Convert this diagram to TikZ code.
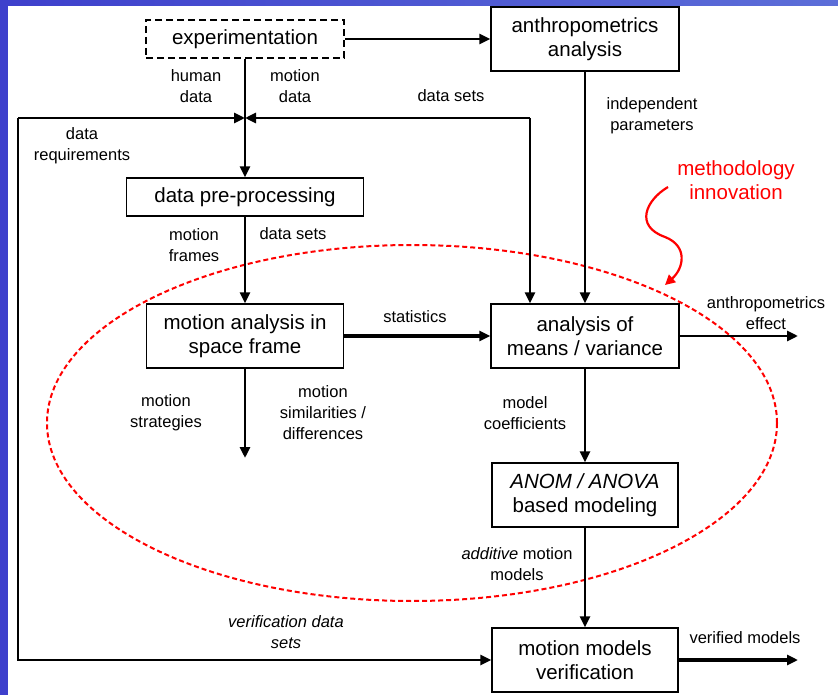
\documentclass[tikz,border=0pt]{standalone}
\usepackage{fontspec}
\setmainfont{Liberation Sans}
\usetikzlibrary{calc}
\usetikzlibrary{arrows.meta}

\definecolor{slideleft}{RGB}{62,64,204}
\definecolor{slideright}{RGB}{92,110,216}

\tikzset{
  box/.style={draw,line width=1.3pt,align=center,inner sep=0pt,font=\fontsize{20.5}{24}\selectfont},
  lbl/.style={align=center,inner sep=0pt,font=\fontsize{16.5}{21}\selectfont},
  flow/.style={line width=2.9pt,-{Triangle[length=11pt,width=10pt]}},
}

\begin{document}
\begin{tikzpicture}[x=1pt,y=-1pt]
  % Boundary
  \path[use as bounding box] (0,0) rectangle (838,695);
  % Slide background
  \fill[left color=slideleft,right color=slideright] (0,0) rectangle (838,695);
  \fill[white] (7.5,6) rectangle (838,695);
  % Methodology ellipse
  \draw[red,line width=2pt,dash pattern=on 5pt off 3pt] (412,423) ellipse [x radius=365pt,y radius=178pt];
  % Boxes
  \node[box,line width=2pt,dash pattern=on 7pt off 4pt,minimum width=198pt,minimum height=38pt] (exp) at (245,39) {experimentation};
  \node[box,minimum width=188pt,minimum height=64pt] (anthro) at (585,39) {anthropometrics\\analysis};
  \node[box,minimum width=237pt,minimum height=38pt] (prep) at (245,197) {data pre-processing};
  \node[box,minimum width=197pt,minimum height=64pt] (motion) at (245,336) {motion analysis in\\space frame};
  \node[box,minimum width=188pt,minimum height=64pt] (means) at (585,336) {analysis of\\means / variance};
  \node[box,minimum width=186pt,minimum height=64pt] (anom) at (585,495) {\textit{ANOM / ANOVA}\\based modeling};
  \node[box,minimum width=186pt,minimum height=64pt] (verif) at (585,660) {motion models\\verification};
  % Free ends
  \coordinate (junc) at (245,118);
  \coordinate (dreq) at (18,118);
  \coordinate (dsets) at (530,118);
  \coordinate (strat) at (245,458);
  \coordinate (effect) at (798,336);
  \coordinate (verified) at (798,660);
  % Connectors
  \draw[flow] (exp) -- (anthro);
  \draw[flow] (exp) -- (prep);
  \draw[flow] (dreq) -- (junc);
  \draw[flow] (dsets) -- (junc);
  \draw[flow] (dreq) |- (verif);
  \draw[flow] (dsets) -- (dsets |- means.north);
  \draw[flow] (anthro) -- (means);
  \draw[flow] (prep) -- (motion);
  \draw[flow] (motion) -- (strat);
  \draw[flow,line width=3.4pt] (motion) -- (means);
  \draw[flow] (means) -- (effect);
  \draw[flow] (means) -- (anom);
  \draw[flow] (anom) -- (verif);
  \draw[flow,line width=3.2pt] (verif) -- (verified);
  % Labels
  \node[lbl] (human) at (196,86.5) {human\\data};
  \node[lbl] (mdata) at (295,86.5) {motion\\data};
  \node[lbl] (sets1) at (451,96) {data sets};
  \node[lbl] (reqs) at (82,145.5) {data\\requirements};
  \node[lbl] (indep) at (652,116) {independent\\parameters};
  \node[lbl] (frames) at (194,245) {motion\\frames};
  \node[lbl] (sets2) at (293,234) {data sets};
  \node[lbl] (stats) at (415,317) {statistics};
  \node[lbl] (strats) at (166,413) {motion\\strategies};
  \node[lbl] (simil) at (323,413) {motion\\similarities /\\differences};
  \node[lbl] (aeff) at (766,313) {anthropometrics\\effect};
  \node[lbl] (coef) at (525,413) {model\\coefficients};
  \node[lbl] (addit) at (517,564) {\textit{additive} motion\\models};
  \node[lbl] (vsets) at (286,632.5) {\textit{verification data}\\\textit{sets}};
  \node[lbl] (vmod) at (745,638) {verified models};
  % Innovation note
  \node[lbl,red,font=\fontsize{20.5}{24}\selectfont] (innov) at (736,180) {methodology\\innovation};
  \coordinate (squig) at (668,187);
  \coordinate (hit) at (665,285);
  \draw[red,line width=2.2pt,-{Triangle[length=10pt,width=10pt]}] (squig) .. controls (646,200) and (634,226) .. (665,237) .. controls (688,246) and (684,268) .. (hit);
\end{tikzpicture}
\end{document}
